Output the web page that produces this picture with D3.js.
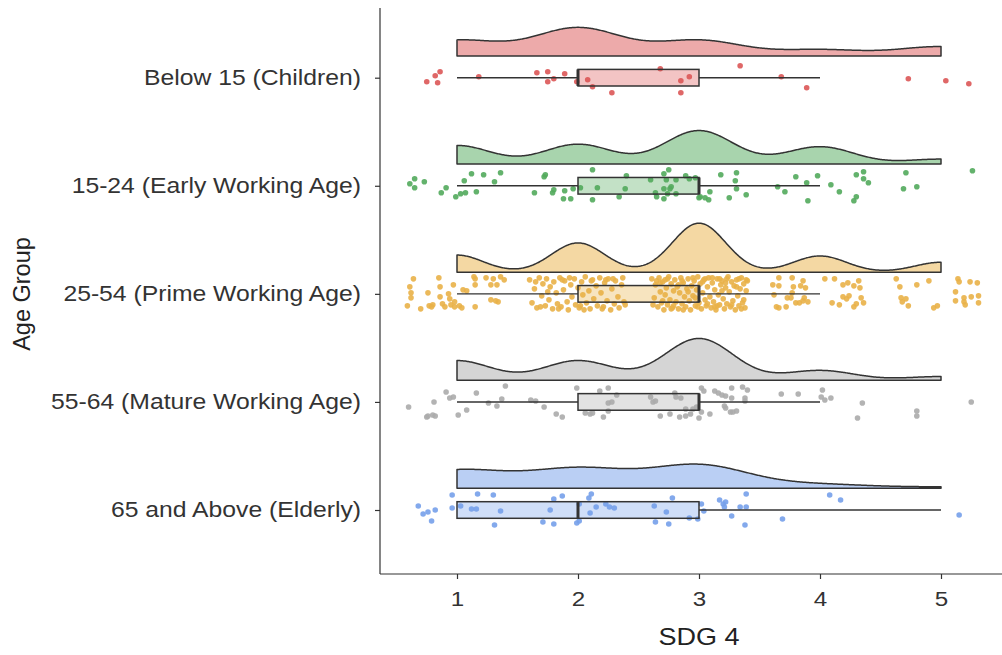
<!DOCTYPE html>
<html>
<head>
<meta charset="utf-8">
<script src="https://cdn.jsdelivr.net/npm/d3@7"></script>
<style>
  html, body { margin: 0; padding: 0; background: #ffffff; }
  svg { display: block; }
  text { font-family: "Liberation Sans", Arial, Helvetica, sans-serif; }
</style>
</head>
<body>
<svg id="chart" width="1002" height="655"></svg>
<script>
// ---------------- DATA ----------------
const categories = [
  "Below 15 (Children)",
  "15-24 (Early Working Age)",
  "25-54 (Prime Working Age)",
  "55-64 (Mature Working Age)",
  "65 and Above (Elderly)"
];
const xTicks = [1, 2, 3, 4, 5];
const xTitle = "SDG 4";
const yTitle = "Age Group";

// jittered observations: [SDG 4 value as plotted, vertical jitter]
const childrenPoints = [
  [0.75,4],[0.82,-2],[0.86,-6],[0.84,5],[1.18,-1],
  [1.66,-5],[1.75,-6],[1.75,4],[1.80,1],[1.89,-4],[1.99,4],[2.08,2],[2.12,9],[2.28,15],
  [2.68,-9],[2.85,3],[2.92,-1],[2.85,15],[3.34,-12],
  [3.68,-1],[3.89,10],
  [4.73,1],[5.04,3],[5.23,6]
];
const earlyWorkingPoints = [
  [0.61,-2],[0.65,-7],[0.65,2],[0.73,-4],[0.87,7],[0.91,2],[0.99,11],[1.03,8],[1.07,7],[1.06,-5],
  [1.12,-12],[1.16,6],[1.22,-11],[1.31,-4],[1.36,-13],
  [1.64,7],[1.72,-9],[1.73,-11],[1.79,7],[1.80,4],[1.88,13],[1.89,5],[1.94,13],[1.96,3],[2.02,2],
  [2.12,-16],[2.12,14],[2.16,2],[2.34,11],[2.39,3],[2.40,-10],
  [2.60,-6],[2.64,7],[2.65,11],[2.71,-12],[2.71,13],[2.71,3],[2.73,-6],[2.74,8],[2.75,-16],[2.77,1],
  [2.76,3],[2.81,-6],[2.81,8],[2.89,-10],[2.92,-7],[2.97,-8],[3.00,12],[3.01,11],[3.05,12],[3.08,14],
  [3.09,6],[3.18,-11],[3.25,12],[3.30,-5],[3.31,-13],[3.31,3],[3.39,9],
  [3.65,1],[3.71,6],[3.80,-9],[3.89,-3],[3.90,15],[3.98,-10],[4.09,-1],[4.16,6],[4.28,15],[4.30,11],
  [4.30,-11],[4.36,-14],[4.36,-7],[4.40,-3],
  [4.69,3],[4.71,-13],[4.80,1],[5.26,-15]
];
const primeWorkingPoints = [
  // around 1
  [0.64,-15],[0.85,-16],[1.14,-17],[1.15,-15],[1.24,-16],[1.30,-15],[1.36,-17],[1.39,-14],[0.97,-9],[0.86,-7],
  [1.15,-9],[0.61,-7],[0.62,-1],[0.76,-1],[0.93,0],[1.05,-4],[1.08,-3],[1.28,-9],[1.33,-9],[0.62,4],
  [0.86,3],[0.94,5],[0.59,12],[0.70,15],[0.77,12],[0.80,11],[0.88,10],[0.90,13],[0.95,11],[0.98,13],
  [1.02,12],[1.04,14],[1.15,13],[1.28,6],[1.34,8],[0.98,8],[0.79,13],[1.32,7],
  // around 2
  [1.60,-14],[1.62,9],[1.64,-5],[1.66,14],[1.68,-16],[1.70,2],[1.71,-10],[1.73,12],[1.74,-15],[1.76,6],
  [1.77,-7],[1.79,15],[1.80,-12],[1.82,-1],[1.83,10],[1.85,-16],[1.86,13],[1.88,-4],[1.89,-13],[1.91,8],
  [1.92,16],[1.94,-9],[1.95,3],[1.97,-15],[1.98,11],[2.00,-6],[2.01,14],[2.03,-12],[2.04,1],[2.06,-17],
  [2.07,9],[2.09,-3],[2.10,15],[2.12,-14],[2.13,5],[2.15,-8],[2.16,12],[2.18,-16],[2.19,-1],[2.21,13],
  [2.22,-11],[2.24,7],[2.25,-15],[2.27,16],[2.28,-5],[2.30,10],[2.31,-13],[2.33,3],[2.34,14],[2.36,-9],
  [2.37,-16],[2.39,11],[1.65,-12],[1.75,-2],[1.84,15],[1.93,-16],[2.02,12],[2.11,-13],[2.20,15],[2.29,-15],
  [2.38,8],[1.69,13],[1.87,-14],[2.05,16],[2.23,-14],
  // around 3
  [2.61,-15],[2.63,4],[2.64,-9],[2.66,13],[2.67,-16],[2.68,-2],[2.69,9],[2.70,-12],[2.71,16],[2.72,1],
  [2.73,-6],[2.74,11],[2.75,-17],[2.76,6],[2.77,-10],[2.78,14],[2.79,-3],[2.80,-14],[2.81,8],[2.82,-7],
  [2.83,15],[2.84,-1],[2.85,-16],[2.86,10],[2.87,-11],[2.88,3],[2.89,13],[2.90,-5],[2.91,-15],[2.92,7],
  [2.93,16],[2.94,-8],[2.95,2],[2.96,-13],[2.97,12],[2.98,-4],[2.99,-17],[3.00,9],[3.01,-10],[3.02,15],
  [3.03,-1],[3.04,-14],[3.05,6],[3.06,12],[3.07,-7],[3.08,-16],[3.09,3],[3.10,14],[3.11,-11],[3.12,8],
  [3.13,-4],[3.14,16],[3.15,-15],[3.16,1],[3.17,11],[3.18,-9],[3.19,-13],[3.20,5],[3.21,15],[3.22,-6],
  [3.23,10],[3.24,-17],[3.25,-2],[3.26,13],[3.27,-12],[3.28,7],[3.29,-8],[3.30,16],[3.31,-14],[3.32,2],
  [3.33,12],[3.34,-5],[3.35,-16],[3.36,9],[3.37,-10],[3.38,14],[3.39,-3],[3.40,-13],
  [2.62,11],[2.65,-13],[2.70,7],[2.74,-15],[2.79,12],[2.83,-9],[2.87,16],[2.91,-2],[2.95,-16],[2.99,13],
  [3.03,-12],[3.07,10],[3.11,-16],[3.15,12],[3.19,-3],[3.23,-15],[3.27,11],[3.31,-7],[3.35,15],[3.39,-14],
  [2.68,-11],[2.77,15],[2.86,-13],[2.97,4],[3.05,-15],[3.13,13],[3.22,-11],[3.33,-15],[3.37,6],[2.72,-14],
  [3.17,-15],
  // around 4
  [3.66,-16],[3.77,-16],[3.61,-9],[3.66,-8],[3.78,-7],[3.86,-13],[3.88,-6],[3.84,-8],[3.62,1],[3.77,-1],
  [3.73,4],[3.76,4],[3.64,13],[3.66,14],[3.72,13],[3.80,9],[3.83,9],[3.86,7],[3.90,8],[3.87,4],
  [4.04,-15],[4.12,-15],[4.19,-9],[4.23,-11],[4.28,-8],[4.32,-13],[4.33,-6],[4.19,3],[4.22,5],[4.24,2],
  [4.34,4],[4.10,9],[4.16,11],[4.28,13],[4.30,10],[4.36,9],
  // around 5
  [4.63,-15],[4.66,-7],[4.80,-9],[4.90,-13],[4.67,4],[4.68,8],[4.71,5],[4.73,12],[4.94,14],[4.97,12],
  [5.14,-15],[5.15,-12],[5.24,-12],[5.30,-11],[5.12,-2],[5.12,7],[5.19,4],[5.19,8],[5.20,11],[5.25,3],
  [5.31,2],[5.31,9]
];
const matureWorkingPoints = [
  [0.60,5],[0.75,15],[0.76,14],[0.80,13],[0.82,14],[0.81,0],[0.91,-10],[0.94,-4],[0.97,-5],[1.01,13],
  [1.08,8],[1.16,-9],[1.26,1],[1.33,4],[1.37,-3],[1.40,-16],
  [1.61,-2],[1.65,-1],[1.72,5],[1.82,12],[1.87,15],[1.99,-14],[2.06,11],[2.10,12],[2.12,11],[2.18,-11],
  [2.21,15],[2.25,-14],[2.25,9],[2.25,1],[2.28,0],[2.32,-7],
  [2.60,-5],[2.62,0],[2.64,-1],[2.68,14],[2.76,12],[2.80,-9],[2.81,-5],[2.85,-4],[2.84,15],[2.89,7],
  [2.89,14],[2.93,12],[2.95,7],[2.98,5],[3.00,16],[3.02,-14],[3.02,10],[3.04,-11],[3.09,12],[3.13,-11],
  [3.16,-9],[3.19,-7],[3.21,4],[3.22,-6],[3.22,6],[3.26,10],[3.27,-14],[3.27,-4],[3.28,10],[3.31,9],
  [3.36,-15],[3.38,-4],[3.38,-1],[3.40,-12],
  [3.68,-8],[3.82,-8],[4.01,-5],[4.02,-12],[4.04,-2],[4.09,-4],[4.31,16],[4.35,1],
  [4.80,9],[4.80,14],[5.25,0]
];
const elderlyPoints = [
  [0.68,-4],[0.72,4],[0.76,2],[0.79,11],[0.82,0],[0.96,-15],[0.96,-2],[1.03,-4],[1.12,-1],[1.16,-1],
  [1.17,-16],[1.30,-15],[1.31,15],[1.36,1],
  [1.71,12],[1.77,0],[1.80,-11],[1.80,14],[1.87,-14],[1.99,13],[2.01,11],[2.01,-6],[2.09,-12],[2.11,-16],
  [2.10,3],[2.15,-3],[2.23,-6],[2.26,-3],[2.30,-2],
  [2.63,-4],[2.64,12],[2.73,2],[2.75,14],[2.78,-12],[2.92,8],[2.99,9],[3.02,-6],[3.04,1],[3.17,-10],
  [3.20,-6],[3.21,-3],[3.22,-8],[3.27,6],[3.34,-3],[3.39,-3],[3.39,-16],[3.38,15],
  [3.69,9],[4.08,-15],[4.17,-10],
  [5.15,5]
];
const groupPoints = [childrenPoints, earlyWorkingPoints, primeWorkingPoints, matureWorkingPoints, elderlyPoints];

// ---------------- STYLE ----------------
const baseColors = ["#dc5656", "#52aa5c", "#e9b148", "#ababab", "#76a0ea"];
const panel = { left: 380, right: 1002, top: 8, bottom: 574 };
const textStretch = 1.15;   // reference text is rendered slightly wide

const svg = d3.select("#chart");

const x = d3.scaleLinear().domain([1, 5]).range([457, 941]);
const y = d3.scalePoint().domain(categories).range([77.7, 510]);
const jitterY = d3.scaleLinear().domain([-54, 54]).range([-54, 54]);

// per-group statistics
const groups = categories.map((cat, i) => {
  const pts = groupPoints[i];
  const scores = pts.map(p => Math.max(1, Math.min(5, Math.round(p[0])))).sort(d3.ascending);
  const n = scores.length;
  const q1 = d3.quantile(scores, 0.25);
  const med = d3.quantile(scores, 0.5);
  const q3 = d3.quantile(scores, 0.75);
  const iqr = q3 - q1;
  const lo = d3.min(scores.filter(v => v >= q1 - 1.5 * iqr));
  const hi = d3.max(scores.filter(v => v <= q3 + 1.5 * iqr));
  const sd = d3.deviation(scores);
  const bw = 0.9 * Math.min(sd, iqr / 1.34) * Math.pow(n, -0.2);
  const mn = d3.min(scores), mx = d3.max(scores);
  const grid = d3.range(513).map(k => mn + (mx - mn) * k / 512);
  const dens = grid.map(g => ({
    x: g,
    d: d3.mean(scores, v => Math.exp(-0.5 * ((g - v) / bw) ** 2) / Math.sqrt(2 * Math.PI)) / bw
  }));
  return { cat, i, pts, q1, med, q3, lo, hi, dens };
});

const maxD = d3.max(groups, g => d3.max(g.dens, d => d.d));
const h = d3.scaleLinear().domain([0, maxD]).range([0, 49]);

const violinOffset = 21.7, boxHalf = 8.3;
const ink = "#333333";

// ---------------- DRAW ----------------
groups.forEach(g => {
  const cy = y(g.cat);
  const base = cy - violinOffset;
  const col = baseColors[g.i];
  const gg = svg.append("g");

  const area = d3.area()
    .x(d => x(d.x))
    .y0(base)
    .y1(d => base - h(d.d))
    .curve(d3.curveLinear);
  gg.append("path")
    .datum(g.dens)
    .attr("d", d => area(d) + "Z")
    .attr("fill", col).attr("fill-opacity", 0.5)
    .attr("stroke", ink).attr("stroke-width", 1.5)
    .attr("stroke-linejoin", "round");

  gg.selectAll("circle").data(g.pts).join("circle")
    .attr("cx", d => x(d[0]))
    .attr("cy", d => cy + jitterY(d[1]))
    .attr("r", 2.8)
    .attr("fill", col).attr("fill-opacity", 0.9);

  // whiskers
  gg.append("line").attr("x1", x(g.lo)).attr("x2", x(g.q1)).attr("y1", cy).attr("y2", cy)
    .attr("stroke", ink).attr("stroke-width", 1.4);
  gg.append("line").attr("x1", x(g.q3)).attr("x2", x(g.hi)).attr("y1", cy).attr("y2", cy)
    .attr("stroke", ink).attr("stroke-width", 1.4);
  // box
  gg.append("rect")
    .attr("x", x(g.q1)).attr("width", x(g.q3) - x(g.q1))
    .attr("y", cy - boxHalf).attr("height", 2 * boxHalf)
    .attr("fill", col).attr("fill-opacity", 0.35)
    .attr("stroke", ink).attr("stroke-width", 1.5);
  gg.append("line").attr("x1", x(g.med)).attr("x2", x(g.med))
    .attr("y1", cy - boxHalf).attr("y2", cy + boxHalf)
    .attr("stroke", ink).attr("stroke-width", 3);
});

// axes
const xAxis = d3.axisBottom(x).tickValues(xTicks).tickFormat(d3.format("d")).tickSizeInner(5).tickSizeOuter(0).tickPadding(12);
const xg = svg.append("g").attr("transform", `translate(0,${panel.bottom})`).call(xAxis);
xg.select(".domain").remove();
xg.append("line").attr("x1", panel.left).attr("x2", panel.right).attr("y1", 0).attr("y2", 0)
  .attr("stroke", ink).attr("stroke-width", 1.2);
xg.selectAll(".tick line").attr("stroke", ink).attr("stroke-width", 1.2);
xg.selectAll(".tick text").attr("fill", "#333").style("font-size", "21px")
  .attr("transform", `scale(${textStretch},1)`);

const yAxis = d3.axisLeft(y).tickSizeInner(5).tickSizeOuter(0).tickPadding(0);
const yg = svg.append("g").attr("transform", `translate(${panel.left},0)`).call(yAxis);
yg.select(".domain").remove();
yg.append("line").attr("x1", 0).attr("x2", 0).attr("y1", panel.top).attr("y2", panel.bottom)
  .attr("stroke", ink).attr("stroke-width", 1.2);
yg.selectAll(".tick line").attr("stroke", ink).attr("stroke-width", 1.2);
yg.selectAll(".tick text").attr("fill", "#333").style("font-size", "21.5px")
  .attr("x", 0)
  .attr("transform", `translate(-19,0) scale(${textStretch},1)`);

svg.append("text")
  .attr("transform", `translate(${x(3)},645) scale(1.15,1)`)
  .attr("text-anchor", "middle")
  .style("font-size", "23.5px").attr("fill", "#222").text(xTitle);
svg.append("text").attr("transform", `translate(30,${(panel.top + panel.bottom) / 2 + 3}) rotate(-90)`)
  .attr("text-anchor", "middle").style("font-size", "23.5px").attr("fill", "#222").text(yTitle);
</script>
</body>
</html>
